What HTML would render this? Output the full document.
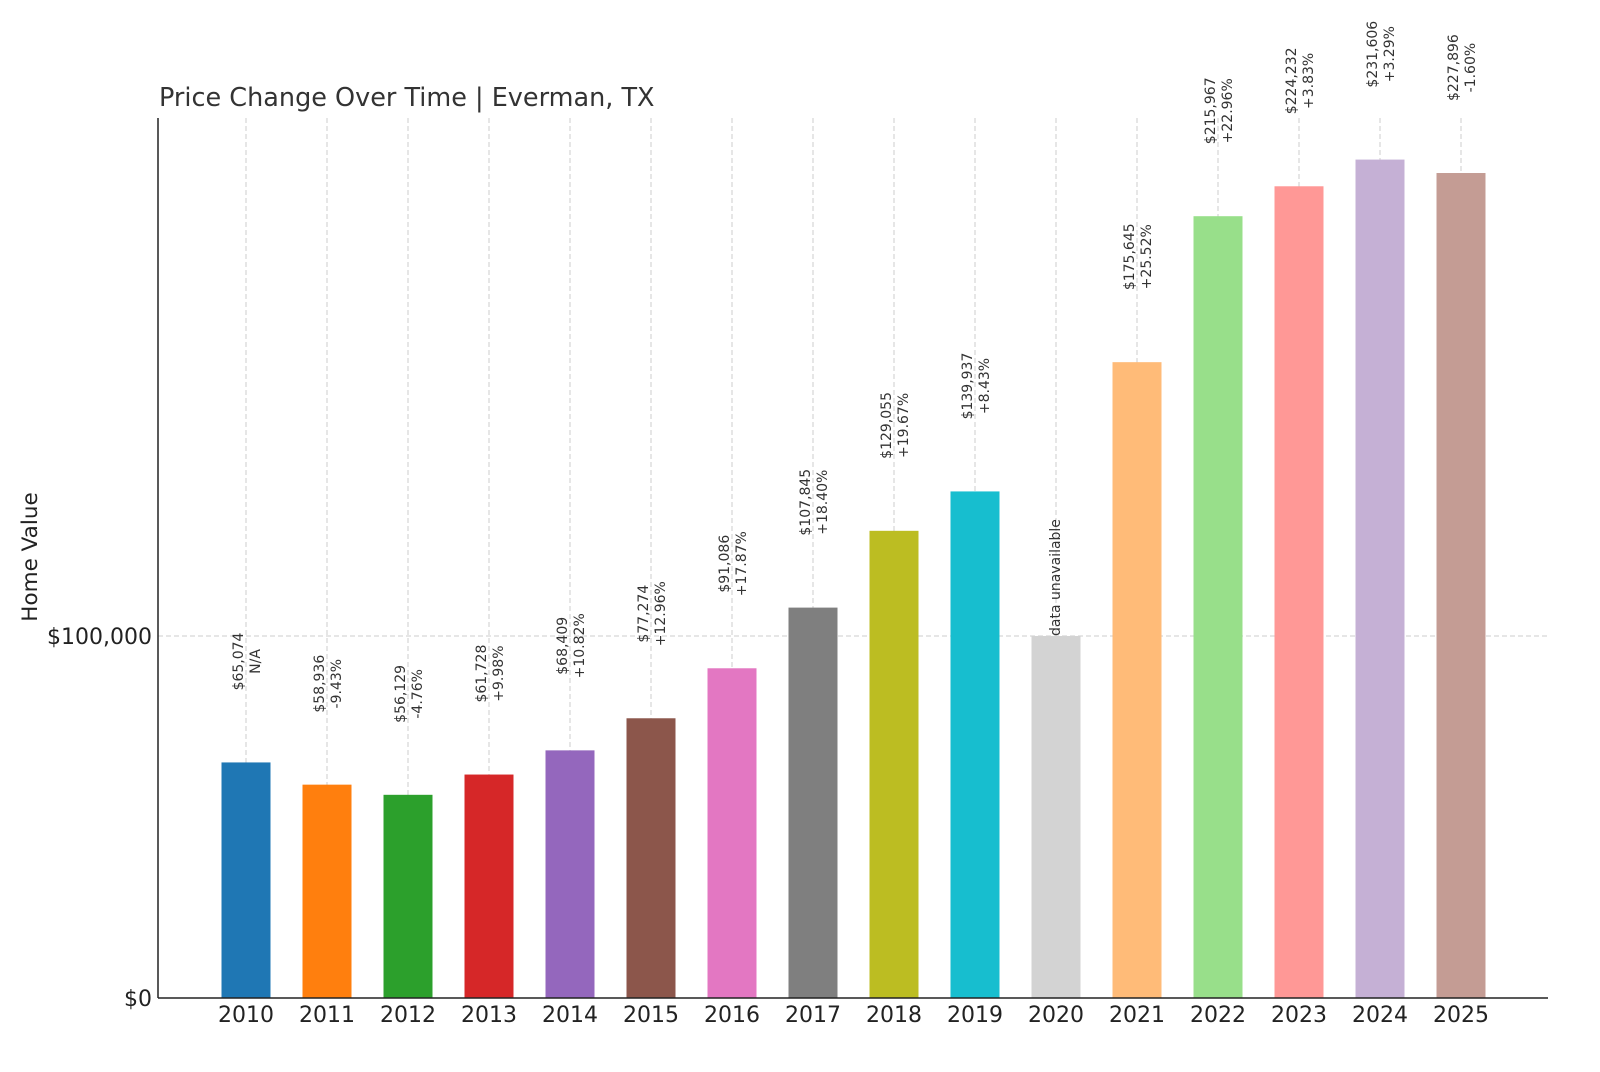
<!DOCTYPE html>
<html><head><meta charset="utf-8"><style>
body{margin:0;background:#fff;}
svg text{font-family:"DejaVu Sans","Liberation Sans",sans-serif;}
</style></head><body>
<svg id="chart" width="1600" height="1067" xmlns="http://www.w3.org/2000/svg">
<text x="159" y="106" font-size="25.5" fill="#333">Price Change Over Time | Everman, TX</text>
<text transform="translate(37,557) rotate(-90)" text-anchor="middle" font-size="21.5" fill="#222">Home Value</text>
<g id="grid"></g><g id="bars"></g><g id="labels"></g><g id="axes"></g>
</svg>
<script>
const years=["2010","2011","2012","2013","2014","2015","2016","2017","2018","2019","2020","2021","2022","2023","2024","2025"];
const values=[65074,58936,56129,61728,68409,77274,91086,107845,129055,139937,100000,175645,215967,224232,231606,227896];
const valueLabels=["$65,074","$58,936","$56,129","$61,728","$68,409","$77,274","$91,086","$107,845","$129,055","$139,937","","$175,645","$215,967","$224,232","$231,606","$227,896"];
const changeLabels=["N/A","-9.43%","-4.76%","+9.98%","+10.82%","+12.96%","+17.87%","+18.40%","+19.67%","+8.43%","data unavailable","+25.52%","+22.96%","+3.83%","+3.29%","-1.60%"];
const yTicks=[0,100000];
const yTickLabels=["$0","$100,000"];
const colors=["#1f77b4","#ff7f0e","#2ca02c","#d62728","#9467bd","#8c564b","#e377c2","#7f7f7f","#bcbd22","#17becf","#d3d3d3","#ffbb78","#98df8a","#ff9896","#c5b0d5","#c49c94"];
const NS="http://www.w3.org/2000/svg";
const X0=158,X1=1548,Y0=998,YT=118;
const y=v=>Y0-v*362/100000;
const x=i=>246+i*81;
const BW=49;
function mk(t,a,p){const e=document.createElementNS(NS,t);for(const k in a)e.setAttribute(k,a[k]);p.appendChild(e);return e;}
const grid=document.getElementById('grid'),bars=document.getElementById('bars'),labels=document.getElementById('labels'),axes=document.getElementById('axes');
yTicks.forEach((v,i)=>{
 if(v>0){const l=mk('line',{x1:X0,x2:X1,y1:y(v),y2:y(v),stroke:'#ccc','stroke-dasharray':'5,3'},grid);
 
 }
 const t=mk('text',{x:X0-6,y:y(v)+8,'text-anchor':'end','font-size':22,fill:'#222'},axes);t.textContent=yTickLabels[i];
 
 
});
years.forEach((yr,i)=>{
 const g=mk('line',{x1:x(i),x2:x(i),y1:YT,y2:Y0,stroke:'#ccc','stroke-dasharray':'5,3'},grid);
 
 
 const r=mk('rect',{x:x(i)-BW/2,y:y(values[i]),width:BW,height:Y0-y(values[i]),fill:colors[i]},bars);
 
 
 const t=mk('text',{x:x(i),y:Y0+24,'text-anchor':'middle','font-size':22,fill:'#222'},axes);t.textContent=yr;
 
 
 const top=y(values[i]);
 if(valueLabels[i]===""){
  const s=mk('text',{transform:`translate(${x(i)+4},${top}) rotate(-90)`,'font-size':14,fill:'#333'},labels);s.textContent=changeLabels[i];
  
  
 } else {
  const g2=mk('g',{},labels);
  
  
  const a=mk('text',{'text-anchor':'middle','font-size':14,fill:'#333'},g2);a.textContent=valueLabels[i];
  const b=mk('text',{'text-anchor':'middle','font-size':14,fill:'#333'},g2);b.textContent=changeLabels[i];
  const len=Math.max(a.getComputedTextLength(),b.getComputedTextLength());
  const cy=top-72-len/2;
  a.setAttribute('transform',`translate(${x(i)-3},${cy}) rotate(-90)`);
  b.setAttribute('transform',`translate(${x(i)+14},${cy}) rotate(-90)`);
 }
});
const la=mk('line',{x1:X0,x2:X0,y1:YT,y2:Y0,stroke:'#222','stroke-width':1.5},axes);


const lb=mk('line',{x1:X0,x2:X1,y1:Y0,y2:Y0,stroke:'#222','stroke-width':1.5},axes);


</script>
</body></html>
